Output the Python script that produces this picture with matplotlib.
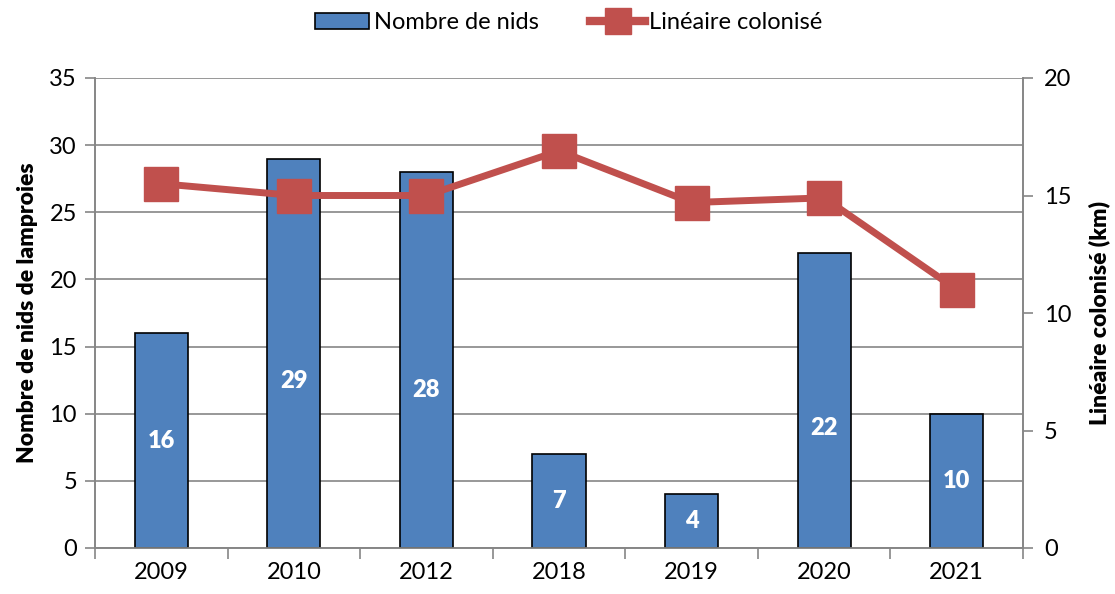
import numpy as np
import matplotlib
matplotlib.use("Agg")
import matplotlib.pyplot as plt
from matplotlib.patches import Patch
from matplotlib.lines import Line2D

plt.rcParams['font.family'] = ['Lato', 'DejaVu Sans']

years = ['2009', '2010', '2012', '2018', '2019', '2020', '2021']
nids = [16, 29, 28, 7, 4, 22, 10]
lineaire = [15.5, 15.0, 15.0, 16.9, 14.7, 14.9, 11.0]
# where Excel put the value labels (in bar units)
label_pos = [8.0, 12.4, 11.8, 3.5, 2.0, 8.9, 5.0]

bar_col = '#4F81BD'
line_col = '#C0504D'
grid_col = '#868686'

fig = plt.figure(figsize=(11.15, 5.94), dpi=100)
ax = fig.add_axes([95 / 1115, 46 / 594, 928 / 1115, 470 / 594])
ax2 = ax.twinx()

x = np.arange(len(years))
ax.bar(x, nids, width=0.4, color=bar_col, edgecolor='black', linewidth=1.2, zorder=3)
for xi, v, yp in zip(x, nids, label_pos):
    ax.text(xi, yp, str(v), ha='center', va='center', color='white',
            fontsize=17, fontweight='heavy', zorder=4)

ax2.plot(x, lineaire, color=line_col, linewidth=5, marker='s', markersize=24,
         markerfacecolor=line_col, markeredgecolor=line_col, zorder=5)

ax.set_xlim(-0.5, len(years) - 0.5)
ax.set_ylim(0, 35)
ax.set_yticks(range(0, 36, 5))
ax2.set_ylim(0, 20)
ax2.set_yticks(range(0, 21, 5))

ax.set_xticks(x)
ax.set_xticklabels(years)
ax.set_xticks(np.arange(-0.5, len(years), 1), minor=True)
ax.tick_params(axis='x', which='major', length=0, pad=10, labelsize=17)
ax.tick_params(axis='x', which='minor', length=8, color=grid_col, width=1.2)
ax.tick_params(axis='y', length=7, color=grid_col, width=1.2, labelsize=17, pad=6)
ax2.tick_params(axis='y', length=7, color=grid_col, width=1.2, labelsize=17, pad=8)

ax.yaxis.grid(True, color=grid_col, linewidth=1.2, zorder=0)
ax.set_axisbelow(True)

for a in (ax, ax2):
    a.spines['top'].set_visible(False)
    for s in ('left', 'right', 'bottom'):
        a.spines[s].set_color(grid_col)
        a.spines[s].set_linewidth(1.2)

ax.set_ylabel('Nombre de nids de lamproies', fontsize=16.5, fontweight='heavy', labelpad=8)
ax2.set_ylabel('Linéaire colonisé (km)', fontsize=16.5, fontweight='heavy', labelpad=12)

handles = [Patch(facecolor=bar_col, edgecolor='black', linewidth=1.2),
           Line2D([0], [0], color=line_col, linewidth=6, marker='s', markersize=19)]
fig.legend(handles, ['Nombre de nids', 'Linéaire colonisé'], loc='upper center',
           bbox_to_anchor=(0.51, 1.015), ncol=2, frameon=False, fontsize=17,
           handlelength=2.3, handletextpad=0.2, columnspacing=2.2)

fig.savefig('out.png', dpi=100)
